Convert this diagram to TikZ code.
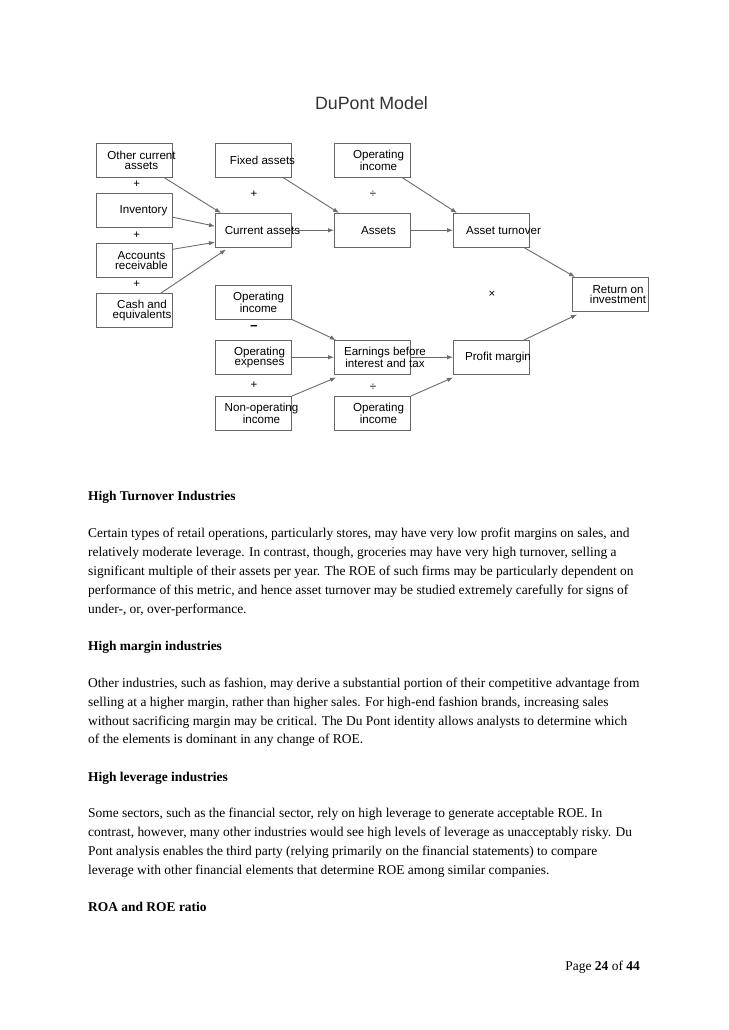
\documentclass[tikz,border=0pt]{standalone}
\usepackage{fontspec}
\setmainfont{Liberation Serif}
\newfontfamily\diagfont{Liberation Sans}
\usetikzlibrary{arrows.meta,calc}
\definecolor{boxgray}{gray}{0.4}
\definecolor{arrowgray}{gray}{0.42}
\begin{document}
\begin{tikzpicture}[x=1pt,y=-1pt,
  box/.style={draw=boxgray, line width=1pt, minimum width=76pt, minimum height=33.5pt, inner sep=0pt, anchor=north west},
  lbl/.style={font=\diagfont\fontsize{11.6}{10}\selectfont, align=center, inner sep=0pt},
  conn/.style={draw=arrowgray, line width=0.9pt, -{Latex[length=6pt,width=4.5pt]}},
  op/.style={font=\diagfont\fontsize{11.5}{11}\selectfont, inner sep=0pt},
  body/.style={anchor=base west, inner sep=0pt, font=\fontsize{13.45}{16}\selectfont},
  head/.style={anchor=base west, inner sep=0pt, font=\fontsize{13.45}{16}\selectfont\bfseries},
]
\useasboundingbox[fill=white] (0,0) rectangle (728,1030);

% title
\node[font=\diagfont\fontsize{17.8}{20}\selectfont, text=black!80, anchor=base, inner sep=0pt] (title) at (371.5,109.3) {DuPont Model};

% boxes
\node[box] (oca) at (96,143) {};
\node[box] (inv) at (96,193) {};
\node[box] (ar) at (96,243) {};
\node[box] (cash) at (96,293) {};
\node[box] (fa) at (215,143) {};
\node[box] (ca) at (215,213) {};
\node[box] (oi1) at (334,143) {};
\node[box] (as) at (334,213) {};
\node[box] (at) at (453,213) {};
\node[box] (roi) at (572,277) {};
\node[box] (oi2) at (215,285) {};
\node[box] (oe) at (215,340) {};
\node[box] (noi) at (215,396) {};
\node[box] (ebit) at (334,340) {};
\node[box] (oi3) at (334,396) {};
\node[box] (pm) at (453,340) {};

% labels
\node[lbl] (oca-t) at ($(oca.center)+(7,0)$) {Other current\\assets};
\node[lbl] (inv-t) at ($(inv.center)+(9,0)$) {Inventory};
\node[lbl] (ar-t) at ($(ar.center)+(7,0)$) {Accounts\\receivable};
\node[lbl] (cash-t) at ($(cash.center)+(7.5,0)$) {Cash and\\equivalents};
\node[lbl] (fa-t) at ($(fa.center)+(9,0)$) {Fixed assets};
\node[lbl] (ca-t) at ($(ca.center)+(9,0)$) {Current assets};
\node[lbl] (oi1-t) at ($(oi1.center)+(6,0)$) {Operating\\income};
\node[lbl] (as-t) at ($(as.center)+(6,0)$) {Assets};
\node[lbl] (at-t) at ($(at.center)+(12,0)$) {Asset turnover};
\node[lbl] (roi-t) at ($(roi.center)+(7.5,0)$) {Return on\\investment};
\node[lbl] (oi2-t) at ($(oi2.center)+(5,0)$) {Operating\\income};
\node[lbl] (oe-t) at ($(oe.center)+(6,0)$) {Operating\\expenses};
\node[lbl] (noi-t) at ($(noi.center)+(8,0)$) {Non-operating\\income};
\node[lbl] (ebit-t) at ($(ebit.center)+(12.5,0)$) {Earnings before\\interest and tax};
\node[lbl] (oi3-t) at ($(oi3.center)+(6,0)$) {Operating\\income};
\node[lbl] (pm-t) at ($(pm.center)+(6.5,0)$) {Profit margin};

% operators
\node[op] (o1) at (136.7,184.3) {+};
\node[op] (o2) at (136.7,235) {+};
\node[op] (o3) at (136.7,284.5) {+};
\node[op] (o4) at (254,194) {+};
\node[op] (o5) at (373,194) {÷};
\node[op, font=\diagfont\bfseries\fontsize{13}{13}\selectfont] (o6) at (254,328) {−};
\node[op] (o7) at (254,385.5) {+};
\node[op] (o8) at (373,387) {÷};
\node[op] (o9) at (492,294) {×};

% connectors
\draw[conn] ($(oca.south east)+(-9,0)$) -- ($(ca.north west)+(6,0)$);
\draw[conn] ($(inv.east)+(0,7)$) -- ($(ca.west)+(0,-4)$);
\draw[conn] ($(ar.east)+(0,-11)$) -- ($(ca.west)+(0,12)$);
\draw[conn] ($(cash.north east)+(-12,0)$) -- ($(ca.south west)+(11,2)$);
\draw[conn] (ca.east) -- (as.west);
\draw[conn] ($(fa.south east)+(-9,0)$) -- ($(as.north west)+(5,0)$);
\draw[conn] ($(oi1.south east)+(-9,0)$) -- ($(at.north west)+(4,0)$);
\draw[conn] (as.east) -- (at.west);
\draw[conn] ($(at.south east)+(-6,0)$) -- ($(roi.north west)+(3,0)$);
\draw[conn] ($(pm.north east)+(-6,0)$) -- ($(roi.south west)+(5,3)$);
\draw[conn] (oi2.south east) -- ($(ebit.north west)+(2,0)$);
\draw[conn] (oe.east) -- (ebit.west);
\draw[conn] (noi.north east) -- ($(ebit.south west)+(2,3)$);
\draw[conn] (ebit.east) -- (pm.west);
\draw[conn] (oi3.north east) -- ($(pm.south west)+(0,3)$);

% body text
\node[head] (h1) at (88,500.5) {High Turnover Industries};
\node[body] (a1) at (88,537) {Certain types of retail operations, particularly stores, may have very low profit margins on sales, and};
\node[body] (a2) at (88,556) {relatively moderate leverage. In contrast, though, groceries may have very high turnover, selling a};
\node[body] (a3) at (88,575) {significant multiple of their assets per year. The ROE of such firms may be particularly dependent on};
\node[body] (a4) at (88,594) {performance of this metric, and hence asset turnover may be studied extremely carefully for signs of};
\node[body] (a5) at (88,613) {under-, or, over-performance.};

\node[head] (h2) at (88,650) {High margin industries};
\node[body] (b1) at (88,687) {Other industries, such as fashion, may derive a substantial portion of their competitive advantage from};
\node[body] (b2) at (88,706) {selling at a higher margin, rather than higher sales. For high-end fashion brands, increasing sales};
\node[body] (b3) at (88,725) {without sacrificing margin may be critical. The Du Pont identity allows analysts to determine which};
\node[body] (b4) at (88,743.5) {of the elements is dominant in any change of ROE.};

\node[head] (h3) at (88,781) {High leverage industries};
\node[body] (c1) at (88,817) {Some sectors, such as the financial sector, rely on high leverage to generate acceptable ROE. In};
\node[body] (c2) at (88,836) {contrast, however, many other industries would see high levels of leverage as unacceptably risky. Du};
\node[body] (c3) at (88,855) {Pont analysis enables the third party (relying primarily on the financial statements) to compare};
\node[body] (c4) at (88,874) {leverage with other financial elements that determine ROE among similar companies.};

\node[head] (h4) at (88,911) {ROA and ROE ratio};

% footer
\node[anchor=base east, inner sep=0pt, font=\fontsize{13.45}{16}\selectfont] (pg) at (640,970) {Page \textbf{24} of \textbf{44}};
\end{tikzpicture}
\end{document}
